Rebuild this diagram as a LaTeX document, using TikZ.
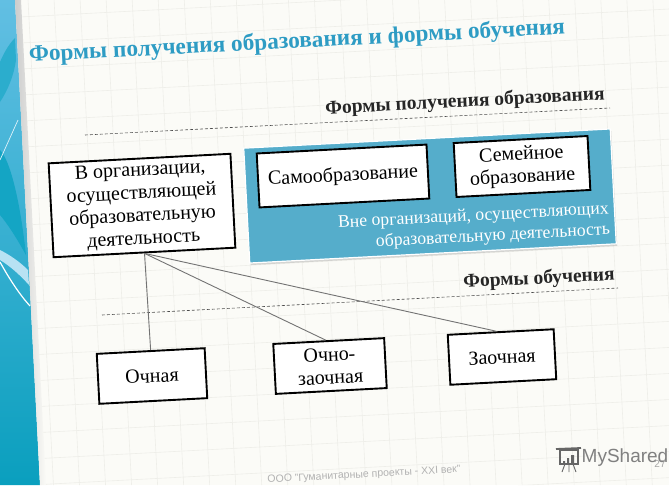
\documentclass[tikz,border=0pt]{standalone}
\usepackage{fontspec}
\setmainfont{Liberation Serif}
\setsansfont{Liberation Sans}
\usetikzlibrary{shadows}
\definecolor{panelblue}{HTML}{55ADCB}
\definecolor{titleblue}{HTML}{2E9CC4}
\definecolor{pagewhite}{HTML}{FBFBF7}
\definecolor{gridgray}{HTML}{EEEEE9}
\definecolor{bandtop}{HTML}{62BFE3}
\definecolor{bandlow}{HTML}{0A9FBE}
\definecolor{swooshdark}{HTML}{14A5C4}

\begin{document}
\begin{tikzpicture}[x=1pt, y=-1pt,
box_style/.style={draw=black, line width=1.9pt, fill=white, rotate=3, align=center, inner sep=0pt, font=\fontsize{20}{22.8}\selectfont},
head_style/.style={rotate=3, font=\fontsize{19.5}{23}\selectfont\bfseries, text=black!85},
dash_style/.style={densely dashed, line width=0.6pt, draw=black!70},
link_style/.style={draw=black!55, line width=0.9pt}]
\useasboundingbox (0,0) rectangle (669,485);

% page and left band
\fill[pagewhite] (0,0) rectangle (669,485);
\shade[top color=bandtop, bottom color=bandlow] (0,0) -- (15,0) -- (40,485) -- (0,485) -- cycle;
\fill[swooshdark!70!bandtop] (15,38) .. controls (8,45) and (3,55) .. (0,62) -- (0,102) .. controls (8,90) and (14,75) .. (16,60) -- cycle;
\fill[swooshdark] (0,150) .. controls (10,160) and (20,200) .. (26,255) .. controls (15,235) and (6,222) .. (0,215) -- cycle;
\fill[white!55!bandtop] (0,250) .. controls (10,255) and (20,262) .. (28,270) -- (29,285) .. controls (20,275) and (10,266) .. (0,260) -- cycle;
\draw[white, line width=1.2pt] (0,262) .. controls (10,280) and (20,295) .. (30,306);
\draw[white!80!bandtop, line width=0.7pt] (18,120) -- (0,160);
\shade[left color=black!20, right color=pagewhite] (15,0) -- (21,0) -- (46,485) -- (40,485) -- cycle;

% grid of the page
\begin{scope}
\clip (21,0) -- (669,0) -- (669,485) -- (46,485) -- cycle;
\begin{scope}[rotate=3]
\foreach \gx in {-50,-24,...,740}
  \draw[gridgray, line width=0.6pt] (\gx,-60) -- (\gx,540);
\foreach \gy in {-60,-34,...,540}
  \draw[gridgray, line width=0.6pt] (-50,\gy) -- (740,\gy);
\end{scope}
\end{scope}

% headings
\node[rotate=3, font=\fontsize{23.3}{28}\selectfont\bfseries, text=titleblue] (title) at (297,42) {Формы получения образования и формы обучения};
\node[head_style] (form_edu) at (465,102) {Формы получения образования};
\node[head_style] (form_study) at (539,279) {Формы обучения};

\coordinate (dash_a) at (85,135);
\coordinate (dash_b) at (610,108);
\coordinate (dash_c) at (102,315);
\coordinate (dash_d) at (618,288);
\draw[dash_style] (dash_a) -- (dash_b);
\draw[dash_style] (dash_c) -- (dash_d);

% panel
\node[draw=white, line width=1.2pt, fill=panelblue, rotate=3, minimum width=367pt, minimum height=115pt, drop shadow={opacity=0.3, shadow xshift=1pt, shadow yshift=-2pt}] (outside) at (430,196) {};
\node[rotate=3, text=white, align=right, font=\fontsize{17.7}{21}\selectfont] (outside_text) at (474,227) {Вне организаций, осуществляющих\\образовательную деятельность};

% boxes
\node[box_style, minimum width=182pt, minimum height=94pt] (inside) at (142,205.5) {В организации,\\осуществляющей\\образовательную\\деятельность};
\node[box_style, minimum width=170pt, minimum height=54pt] (self) at (343,176) {Самообразование};
\node[box_style, minimum width=134pt, minimum height=54pt] (family) at (522,166.5) {Семейное\\образование};
\node[box_style, minimum width=108pt, minimum height=50pt] (full) at (152,376) {Очная};
\node[box_style, minimum width=111pt, minimum height=50pt] (mixed) at (330,366) {Очно-\\заочная};
\node[box_style, minimum width=106pt, minimum height=50pt] (distance) at (502,357) {Заочная};

\draw[link_style] (inside.south) -- (full.north);
\draw[link_style] (inside.south) -- ([xshift=-3pt]mixed.north);
\draw[link_style] (inside.south) -- ([xshift=-5pt]distance.north);

% footer
\node[rotate=3, text=black!30, font=\sffamily\fontsize{10.5}{12}\selectfont, inner sep=0pt] (footer) at (364,475) {ООО "Гуманитарные проекты - XXI век"};
\node[text=black!50, font=\sffamily\fontsize{19}{23}\selectfont, inner sep=0pt] (brand) at (625,458) {MyShared};
\node[text=black!35, font=\sffamily\fontsize{10}{12}\selectfont, inner sep=0pt] (page_no) at (660,464) {27};
\draw[black!60, line width=1.2pt] (560,450) rectangle (578,464);
\draw[black!60, line width=1.8pt] (556,449) -- (581,448);
\fill[black!60] (563,461) rectangle (565,463) (567,458) rectangle (569,463) (571,455) rectangle (574,463);
\draw[black!60, line width=0.9pt] (565,464) -- (562,472) (569,464) -- (569,472) (573,464) -- (576,472);
\end{tikzpicture}
\end{document}
